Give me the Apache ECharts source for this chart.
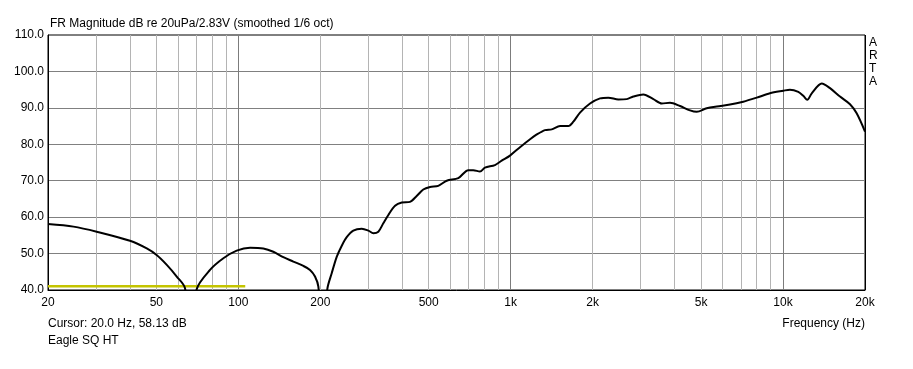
<!DOCTYPE html>
<html>
<head>
<meta charset="utf-8">
<script src="https://cdn.jsdelivr.net/npm/echarts@6/dist/echarts.min.js"></script>
<style>html,body{margin:0;padding:0;background:#fff;}#c{width:913px;height:369px;}</style>
</head>
<body>
<div id="c"></div>
<script>
// Frequency response (Hz, dB)
var freqHz = [20, 24.8, 30.2, 40.0, 46.1, 50.1, 54.6, 59.4, 63.7, 67.0, 70.3, 78.7, 88.1, 98.6, 110.4,
  123.5, 134.4, 146.3, 159.2, 173.3, 183.3, 191.2, 196.7, 205.1, 212.1, 220.2, 229.7, 239.5, 250.0,
  264.3, 283.8, 300.1, 313.1, 326.6, 340.6, 355.5, 376.2, 398.2, 426.8, 451.7, 477.6, 505.8, 542.0,
  582.3, 642.1, 698.7, 728.8, 771.3, 804.5, 875.6, 926.6, 994.1, 1082, 1178, 1247, 1337, 1415, 1518,
  1628, 1699, 1797, 1956, 2129, 2283, 2485, 2668, 2820, 3069, 3341, 3587, 3847, 4187, 4554, 4820,
  5246, 5711, 6388, 7146, 8004, 8954, 10020, 10600, 11380, 11870, 12280, 12750, 13870, 14880, 16190,
  17620, 18640, 20000];
var splDb = [58.1, 57.4, 56.0, 53.5, 51.4, 49.6, 46.9, 43.7, 40.5, 25.0, 40.2, 45.5, 48.7, 50.8, 51.6,
  51.4, 50.5, 49.0, 47.8, 46.6, 45.5, 43.7, 40.9, 25.0, 40.2, 44.6, 49.1, 52.1, 54.5,
  56.3, 56.8, 56.3, 55.6, 56.0, 58.3, 60.6, 63.1, 64.0, 64.2, 65.8, 67.6, 68.3, 68.6,
  70.0, 70.7, 72.9, 72.9, 72.5, 73.6, 74.3, 75.5, 76.9, 79.2, 81.4, 82.7, 83.9, 84.1, 85.0,
  85.0, 86.2, 88.7, 91.2, 92.6, 92.8, 92.3, 92.4, 93.1, 93.7, 92.4, 91.2, 91.4, 90.5, 89.3, 88.9,
  89.9, 90.4, 90.9, 91.7, 92.8, 94.0, 94.7, 95.0, 94.4, 93.3, 92.2, 94.0, 96.7, 95.4, 93.1,
  91.0, 88.5, 83.5];
// Yellow reference line
var refFreqHz = [20, 106];
var refDb = [41, 41];
// Axis ticks
var yTicks = [40, 50, 60, 70, 80, 90, 100, 110];
var xLabelFreqs = [20, 50, 100, 200, 500, 1000, 2000, 5000, 10000, 20000];
var xLabelTexts = ['20', '50', '100', '200', '500', '1k', '2k', '5k', '10k', '20k'];
var minorGridFreqs = [30, 40, 50, 60, 70, 80, 90, 200, 300, 400, 500, 600, 700, 800, 900,
  2000, 3000, 4000, 5000, 6000, 7000, 8000, 9000];
var decadeGridFreqs = [100, 1000, 10000];
var edgeFreqs = [20, 20000];

var FONT = 'Liberation Sans';
function zip(a, b) { return a.map(function (v, i) { return [v, b[i]]; }); }

var markData = [];
minorGridFreqs.forEach(function (f) {
  markData.push({ xAxis: f, lineStyle: { color: '#b4b4b4', width: 1, type: 'solid' } });
});
decadeGridFreqs.forEach(function (f) {
  markData.push({ xAxis: f, lineStyle: { color: '#7c7c7c', width: 1, type: 'solid' } });
});
edgeFreqs.forEach(function (f) {
  markData.push({ xAxis: f, lineStyle: { color: '#000', width: 1, type: 'solid' } });
});
markData.forEach(function (d) {
  var idx = xLabelFreqs.indexOf(d.xAxis);
  if (idx >= 0) {
    d.label = { show: true, position: 'start', formatter: xLabelTexts[idx], distance: 7,
      color: '#000', fontFamily: FONT, fontSize: 12 };
  } else {
    d.label = { show: false };
  }
});

var chart = echarts.init(document.getElementById('c'), null, { renderer: 'canvas' });
chart.setOption({
  animation: false,
  backgroundColor: '#fff',
  grid: { left: 48, top: 35, width: 817, height: 255, show: true, borderColor: '#000', borderWidth: 1, backgroundColor: 'transparent' },
  xAxis: {
    type: 'log', logBase: 10, min: 20, max: 20000,
    axisLine: { show: true, lineStyle: { color: '#000', width: 1 } },
    axisTick: { show: false }, axisLabel: { show: false }, splitLine: { show: false }
  },
  yAxis: {
    type: 'value', min: 40, max: 110, interval: 10,
    axisLine: { show: true, lineStyle: { color: '#000', width: 1 } },
    axisTick: { show: false },
    axisLabel: { margin: 4, color: '#000', fontFamily: FONT, fontSize: 12,
      formatter: function (v) { return v.toFixed(1); } },
    splitLine: { show: true, showMinLine: false, showMaxLine: false, lineStyle: { color: '#808080', width: 1 } }
  },
  graphic: [
    { type: 'text', left: 50, top: 18, style: { text: 'FR Magnitude dB re 20uPa/2.83V (smoothed 1/6 oct)', font: '12px ' + FONT, fill: '#000' } },
    { type: 'text', left: 48, top: 318, style: { text: 'Cursor: 20.0 Hz, 58.13 dB', font: '12px ' + FONT, fill: '#000' } },
    { type: 'text', left: 48, top: 335, style: { text: 'Eagle SQ HT', font: '12px ' + FONT, fill: '#000' } },
    { type: 'text', right: 48, top: 318, style: { text: 'Frequency (Hz)', font: '12px ' + FONT, fill: '#000' } },
    { type: 'text', left: 869, top: 36, style: { text: 'A\nR\nT\nA', font: '12px ' + FONT, fill: '#000', lineHeight: 13 } }
  ],
  series: [
    {
      type: 'line', z: 3, data: zip(refFreqHz, refDb), showSymbol: false, symbol: 'none',
      lineStyle: { color: '#c4c400', width: 2.5 }, silent: true,
      markLine: { silent: true, symbol: 'none', z: 1, animation: false, data: markData }
    },
    {
      type: 'line', z: 4, data: zip(freqHz, splDb), showSymbol: false, symbol: 'none',
      smooth: 0.3, clip: true,
      lineStyle: { color: '#000', width: 2 }, silent: true
    }
  ]
});
</script>
</body>
</html>
